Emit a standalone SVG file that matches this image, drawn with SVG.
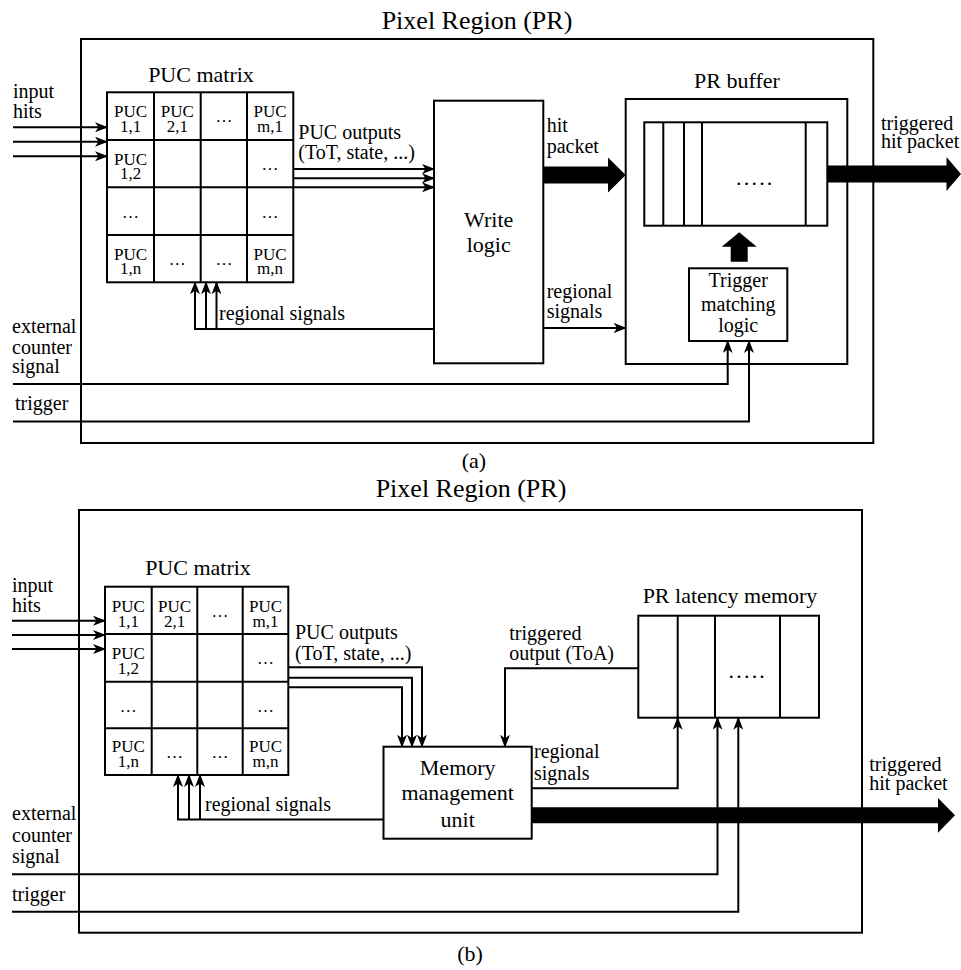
<svg xmlns="http://www.w3.org/2000/svg" width="961" height="970" viewBox="0 0 961 970">
<defs>
<style>
text{font-family:"Liberation Serif","Times New Roman",serif;fill:#000}
.t20{font-size:20px}
.t22{font-size:22px}
.t26{font-size:26px}
.c{font-size:17px;text-anchor:middle}
.e{font-size:17px;text-anchor:middle}
.m{text-anchor:middle}
.box{fill:#fff;stroke:#000;stroke-width:2}
.ln{fill:none;stroke:#000;stroke-width:2}
.cn{fill:none;stroke:#000;stroke-width:2;marker-end:url(#ah)}
.thick{fill:#000;stroke:none}
.dots{font-size:22px;letter-spacing:2.2px;text-anchor:middle}
</style>
<marker id="ah" viewBox="0 0 13 10" refX="12" refY="5" markerWidth="13" markerHeight="10" markerUnits="userSpaceOnUse" orient="auto">
<path d="M0,0 L13,5 L0,10 L3.5,5 Z" fill="#000"/>
</marker>
</defs>
<rect width="961" height="970" fill="#fff"/>

<!-- ================= Panel (a) ================= -->
<g id="a-pixel-region">
<rect class="box" x="81" y="39" width="792.3" height="404"/>
<text class="t26 m" x="477" y="29">Pixel Region (PR)</text>
</g>

<g id="a-puc-matrix">
<text class="t22 m" x="201" y="81.7">PUC matrix</text>
<rect class="box" x="107" y="92.3" width="186.3" height="190"/>
<path class="ln" d="M154,92.3V282.3M200.7,92.3V282.3M247,92.3V282.3M107,140H293.3M107,187.3H293.3M107,235H293.3"/>
<text class="c" x="130.5" y="117">PUC</text><text class="c" x="130.5" y="131.5">1,1</text>
<text class="c" x="177.3" y="117">PUC</text><text class="c" x="177.3" y="131.5">2,1</text>
<text class="e" x="224" y="122">…</text>
<text class="c" x="270" y="117">PUC</text><text class="c" x="270" y="131.5">m,1</text>
<text class="c" x="130.5" y="164.7">PUC</text><text class="c" x="130.5" y="179.2">1,2</text>
<text class="e" x="270" y="169.5">…</text>
<text class="e" x="130.5" y="217.5">…</text>
<text class="e" x="270" y="217.5">…</text>
<text class="c" x="130.5" y="259.7">PUC</text><text class="c" x="130.5" y="274.2">1,n</text>
<text class="e" x="177.3" y="265">…</text>
<text class="e" x="224" y="265">…</text>
<text class="c" x="270" y="259.7">PUC</text><text class="c" x="270" y="274.2">m,n</text>
</g>

<g id="a-write-logic">
<rect class="box" x="434" y="100.7" width="109.3" height="262.6"/>
<text class="t22 m" x="488.7" y="227.3">Write</text>
<text class="t22 m" x="488.7" y="252">logic</text>
</g>

<g id="a-pr-buffer">
<rect class="box" x="625.7" y="99" width="221.6" height="265"/>
<text class="t22 m" x="737" y="88.3">PR buffer</text>
<rect class="box" x="644.3" y="122.3" width="183" height="103.4"/>
<path class="ln" d="M663.3,122.3V225.7M684,122.3V225.7M702,122.3V225.7M805.7,122.3V225.7"/>
<text class="dots" x="755.3" y="185">.....</text>
</g>

<g id="a-trigger-matching">
<rect class="box" x="689" y="268.3" width="98.3" height="72.7"/>
<text class="t20 m" x="738.2" y="287">Trigger</text>
<text class="t20 m" x="738.2" y="310.5">matching</text>
<text class="t20 m" x="738.2" y="332">logic</text>
</g>

<g id="a-labels">
<text class="t20" x="13" y="98">input</text>
<text class="t20" x="13" y="118">hits</text>
<text class="t20" x="298.3" y="139.3">PUC outputs</text>
<text class="t20" x="298.3" y="159.3">(ToT, state, ...)</text>
<text class="t20" x="546.7" y="131.7">hit</text>
<text class="t20" x="546.7" y="152.7">packet</text>
<text class="t20" x="546.7" y="298.3">regional</text>
<text class="t20" x="546.7" y="318.3">signals</text>
<text class="t20" x="219" y="320">regional signals</text>
<text class="t20" x="881" y="130">triggered</text>
<text class="t20" x="881" y="148.3">hit packet</text>
<text class="t20" x="12" y="333">external</text>
<text class="t20" x="12" y="353.5">counter</text>
<text class="t20" x="12" y="373">signal</text>
<text class="t20" x="15" y="410">trigger</text>
<text class="t22 m" x="474" y="468">(a)</text>
</g>

<g id="a-connectors">
<path class="cn" d="M13,127.3H107"/>
<path class="cn" d="M13,141.7H107"/>
<path class="cn" d="M13,156.3H107"/>
<path class="cn" d="M293.3,169H434"/>
<path class="cn" d="M293.3,178.3H434"/>
<path class="cn" d="M293.3,187.3H434"/>
<path class="cn" d="M434,329H195V282.3"/>
<path class="cn" d="M206,329V282.3"/>
<path class="cn" d="M216.5,329V282.3"/>
<path class="cn" d="M543.3,328H625.7"/>
<path class="cn" d="M13,384H727.7V341"/>
<path class="cn" d="M13,421.5H749V341"/>
<polygon class="thick" points="543.3,166.5 608,166.5 608,157.5 625.7,175 608,192.5 608,183.5 543.3,183.5"/>
<polygon class="thick" points="827.3,165.5 946.5,165.5 946.5,157 961,174 946.5,191 946.5,182.5 827.3,182.5"/>
<polygon class="thick" points="730.7,261.7 730.7,246.7 721.7,246.7 739.2,232.3 756.7,246.7 747.7,246.7 747.7,261.7"/>
</g>

<!-- ================= Panel (b) ================= -->
<g id="b-pixel-region">
<rect class="box" x="79" y="510" width="783" height="422.7"/>
<text class="t26 m" x="471" y="497">Pixel Region (PR)</text>
</g>

<g id="b-puc-matrix">
<text class="t22 m" x="198" y="575">PUC matrix</text>
<rect class="box" x="105" y="586.7" width="183.3" height="188.3"/>
<path class="ln" d="M151.7,586.7V775M197.3,586.7V775M242.7,586.7V775M105,634H288.3M105,681.7H288.3M105,728.3H288.3"/>
<text class="c" x="128.3" y="612">PUC</text><text class="c" x="128.3" y="626.5">1,1</text>
<text class="c" x="174.5" y="612">PUC</text><text class="c" x="174.5" y="626.5">2,1</text>
<text class="e" x="220" y="617">…</text>
<text class="c" x="265.5" y="612">PUC</text><text class="c" x="265.5" y="626.5">m,1</text>
<text class="c" x="128.3" y="659.3">PUC</text><text class="c" x="128.3" y="673.8">1,2</text>
<text class="e" x="265.5" y="664">…</text>
<text class="e" x="128.3" y="712">…</text>
<text class="e" x="265.5" y="712">…</text>
<text class="c" x="128.3" y="752">PUC</text><text class="c" x="128.3" y="766.5">1,n</text>
<text class="e" x="174.5" y="758">…</text>
<text class="e" x="220" y="758">…</text>
<text class="c" x="265.5" y="752">PUC</text><text class="c" x="265.5" y="766.5">m,n</text>
</g>

<g id="b-latency-memory">
<text class="t22 m" x="730" y="602.7">PR latency memory</text>
<rect class="box" x="638.3" y="615.7" width="180.7" height="102"/>
<path class="ln" d="M677.7,615.7V717.7M715,615.7V717.7M780,615.7V717.7"/>
<text class="dots" x="747.8" y="678.3">.....</text>
</g>

<g id="b-mmu">
<rect class="box" x="383.5" y="746.7" width="148.2" height="92"/>
<text class="t22 m" x="457.7" y="775">Memory</text>
<text class="t22 m" x="457.7" y="800">management</text>
<text class="t22 m" x="457.7" y="827">unit</text>
</g>

<g id="b-labels">
<text class="t20" x="12" y="591.7">input</text>
<text class="t20" x="12" y="611.7">hits</text>
<text class="t20" x="295" y="639.3">PUC outputs</text>
<text class="t20" x="295" y="660">(ToT, state, ...)</text>
<text class="t20" x="509.3" y="640">triggered</text>
<text class="t20" x="509.3" y="660">output (ToA)</text>
<text class="t20" x="534" y="758.3">regional</text>
<text class="t20" x="534" y="780">signals</text>
<text class="t20" x="205" y="811">regional signals</text>
<text class="t20" x="869.3" y="771">triggered</text>
<text class="t20" x="869.3" y="790">hit packet</text>
<text class="t20" x="12" y="820">external</text>
<text class="t20" x="12" y="841.5">counter</text>
<text class="t20" x="12" y="863">signal</text>
<text class="t20" x="12" y="901">trigger</text>
<text class="t22 m" x="470" y="961">(b)</text>
</g>

<g id="b-connectors">
<path class="cn" d="M12,620.7H105"/>
<path class="cn" d="M12,635H105"/>
<path class="cn" d="M12,649H105"/>
<path class="cn" d="M288.3,667.3H422V746.7"/>
<path class="cn" d="M288.3,677.7H412V746.7"/>
<path class="cn" d="M288.3,687.3H402V746.7"/>
<path class="cn" d="M638.3,668.3H505V746.7"/>
<path class="cn" d="M531.7,788.3H677.7V717.7"/>
<path class="cn" d="M383.5,819.5H178V775"/>
<path class="cn" d="M189,819.5V775"/>
<path class="cn" d="M200,819.5V775"/>
<path class="cn" d="M12,874.3H717.5V717.7"/>
<path class="cn" d="M12,911.7H738.3V717.7"/>
<polygon class="thick" points="531.7,807.3 938,807.3 938,798 955,815.3 938,832.7 938,823.3 531.7,823.3"/>
</g>
</svg>
